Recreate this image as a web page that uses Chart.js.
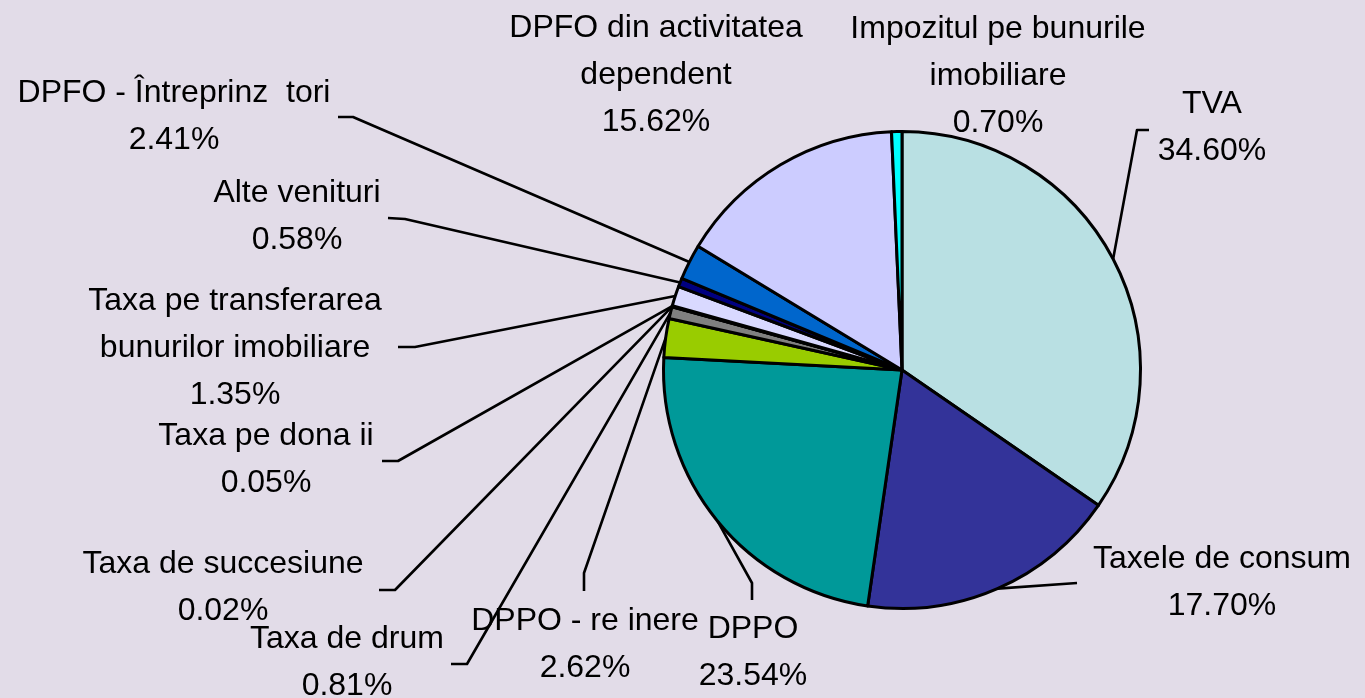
<!DOCTYPE html>
<html>
<head>
<meta charset="utf-8">
<script src="https://cdn.jsdelivr.net/npm/chart.js@4.4.1/dist/chart.umd.min.js"></script>
<style>
    html, body { margin: 0; padding: 0; background: #E2DCE8; }
    #wrap { position: relative; width: 1365px; height: 698px; }
</style>
</head>
<body>
<div id="wrap"><canvas id="chart-pie"></canvas></div>
<script>
// categorii (liniile etichetei) si procente
const categories = [
    ["TVA"],
    ["Taxele de consum"],
    ["DPPO"],
    ["DPPO - re inere"],
    ["Taxa de drum"],
    ["Taxa de succesiune"],
    ["Taxa pe dona ii"],
    ["Taxa pe transferarea", "bunurilor imobiliare"],
    ["Alte venituri"],
    ["DPFO - Întreprinz  tori"],
    ["DPFO din activitatea", "dependent"],
    ["Impozitul pe bunurile", "imobiliare"]
];
const values = [34.60, 17.70, 23.54, 2.62, 0.81, 0.02, 0.05, 1.35, 0.58, 2.41, 15.62, 0.70];
const colors = ["#B9E0E3", "#333399", "#009999", "#99CC00", "#808080", "#CCFFFF",
    "#FFFFCC", "#D9D9FF", "#000080", "#0066CC", "#CCCCFF", "#00FFFF"];

// pozitia etichetelor: centru text, prima linie de baza, cot si capat linie
const labelLayout = [
    { x: 1212, y: 113, elbow: [1137, 130], end: [1149, 130] },
    { x: 1222, y: 568, elbow: null, end: [1077, 583] },
    { x: 753, y: 638, elbow: [752, 583], end: [752, 600] },
    { x: 585, y: 630, elbow: [584, 573], end: [584, 591] },
    { x: 347, y: 648, elbow: [467, 664], end: [451, 664] },
    { x: 223, y: 573, elbow: [395, 590], end: [379, 590] },
    { x: 266, y: 445, elbow: [398, 461], end: [382, 461] },
    { x: 235, y: 310, elbow: [415, 347], end: [398, 347] },
    { x: 297, y: 202, elbow: [405, 219], end: [388, 218] },
    { x: 174, y: 102, elbow: [353, 117], end: [338, 117] },
    { x: 656, y: 37, elbow: null, end: null },
    { x: 998, y: 38, elbow: null, end: null }
];
const lineHeight = 47;

const pieLabels = {
    id: "pieLabels",
    afterDraw: function (chart) {
        const ctx = chart.ctx;
        const arcs = chart.getDatasetMeta(0).data;
        ctx.save();
        // linii de legatura
        ctx.strokeStyle = "#000";
        ctx.lineWidth = 2.6;
        ctx.lineJoin = "round";
        arcs.forEach(function (arc, i) {
            const lay = labelLayout[i];
            if (!lay.end) return;
            const p = arc.getProps(["x", "y", "startAngle", "endAngle", "outerRadius"], true);
            const a = (p.startAngle + p.endAngle) / 2;
            ctx.beginPath();
            ctx.moveTo(p.x + Math.cos(a) * p.outerRadius, p.y + Math.sin(a) * p.outerRadius);
            if (lay.elbow) ctx.lineTo(lay.elbow[0], lay.elbow[1]);
            ctx.lineTo(lay.end[0], lay.end[1]);
            ctx.stroke();
        });
        // texte
        ctx.fillStyle = "#000";
        ctx.font = "32px 'Liberation Sans', Arial, sans-serif";
        ctx.textAlign = "center";
        ctx.textBaseline = "alphabetic";
        categories.forEach(function (lines, i) {
            const lay = labelLayout[i];
            const all = lines.concat([values[i].toFixed(2) + "%"]);
            all.forEach(function (t, k) {
                ctx.fillText(t, lay.x, lay.y + k * lineHeight);
            });
        });
        ctx.restore();
    }
};

const ctx = document.getElementById("chart-pie").getContext("2d");
new Chart(ctx, {
    type: "pie",
    data: {
        labels: categories.map(function (l) { return l.join(" "); }),
        datasets: [{
            data: values,
            backgroundColor: colors,
            borderColor: "#000",
            borderWidth: 3,
            borderJoinStyle: "round"
        }]
    },
    options: {
        responsive: true,
        maintainAspectRatio: false,
        animation: false,
        layout: {
            padding: { left: 662, right: 223, top: 130, bottom: 88 }
        },
        plugins: {
            legend: { display: false },
            tooltip: { enabled: false }
        }
    },
    plugins: [pieLabels]
});
</script>
</body>
</html>
